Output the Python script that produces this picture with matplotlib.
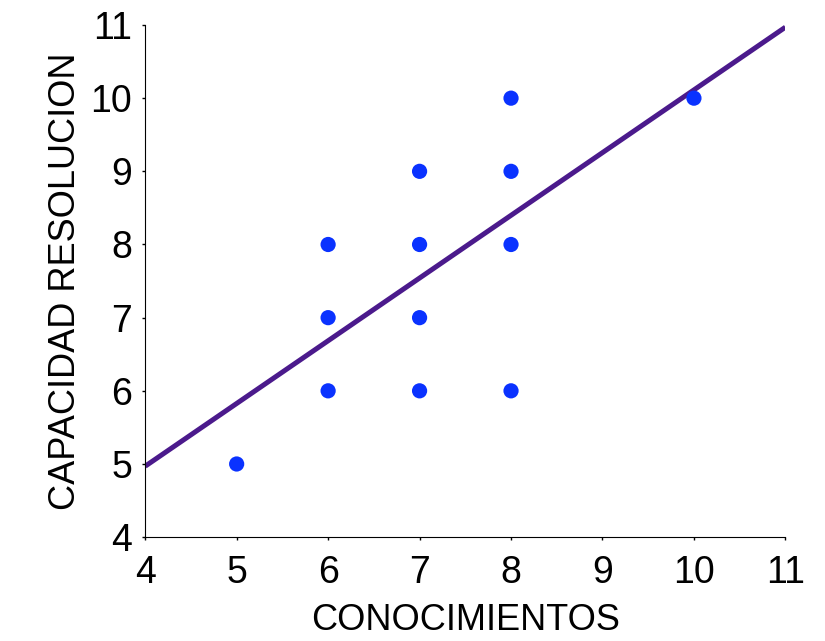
import numpy as np
import matplotlib.pyplot as plt

plt.rcParams['font.family'] = ['Liberation Sans', 'DejaVu Sans']

# datos
conocimientos = [5, 6, 6, 6, 7, 7, 7, 7, 8, 8, 8, 8, 10]
capacidad = [5, 6, 7, 8, 6, 7, 8, 9, 6, 8, 9, 10, 10]

# recta de ajuste (extremos)
fit_x = [4, 11]
fit_y = [4.97, 10.97]

fig = plt.figure(figsize=(8.25, 6.41), dpi=100)
ax = fig.add_axes([0.176, 0.162, 0.776, 0.799])

ax.plot(fit_x, fit_y, color='#4b1a8c', linewidth=3.6, solid_capstyle='butt', zorder=2)
ax.scatter(conocimientos, capacidad, s=120, color='#0a32ff', edgecolors='none', zorder=3)

ax.set_xlim(4, 11)
ax.set_ylim(4, 11)
ax.set_xticks(range(4, 12))
ax.set_yticks(range(4, 12))
ax.tick_params(labelsize=27, length=2.5, width=1, direction='out')
ax.tick_params(axis='x', pad=10)
ax.tick_params(axis='y', pad=7)
ax.spines['top'].set_visible(False)
ax.spines['right'].set_visible(False)

ax.set_xlabel('CONOCIMIENTOS', fontsize=26, labelpad=9)
ax.set_ylabel('CAPACIDAD RESOLUCION', fontsize=26, labelpad=5)

fig.savefig('out.png', dpi=100)
